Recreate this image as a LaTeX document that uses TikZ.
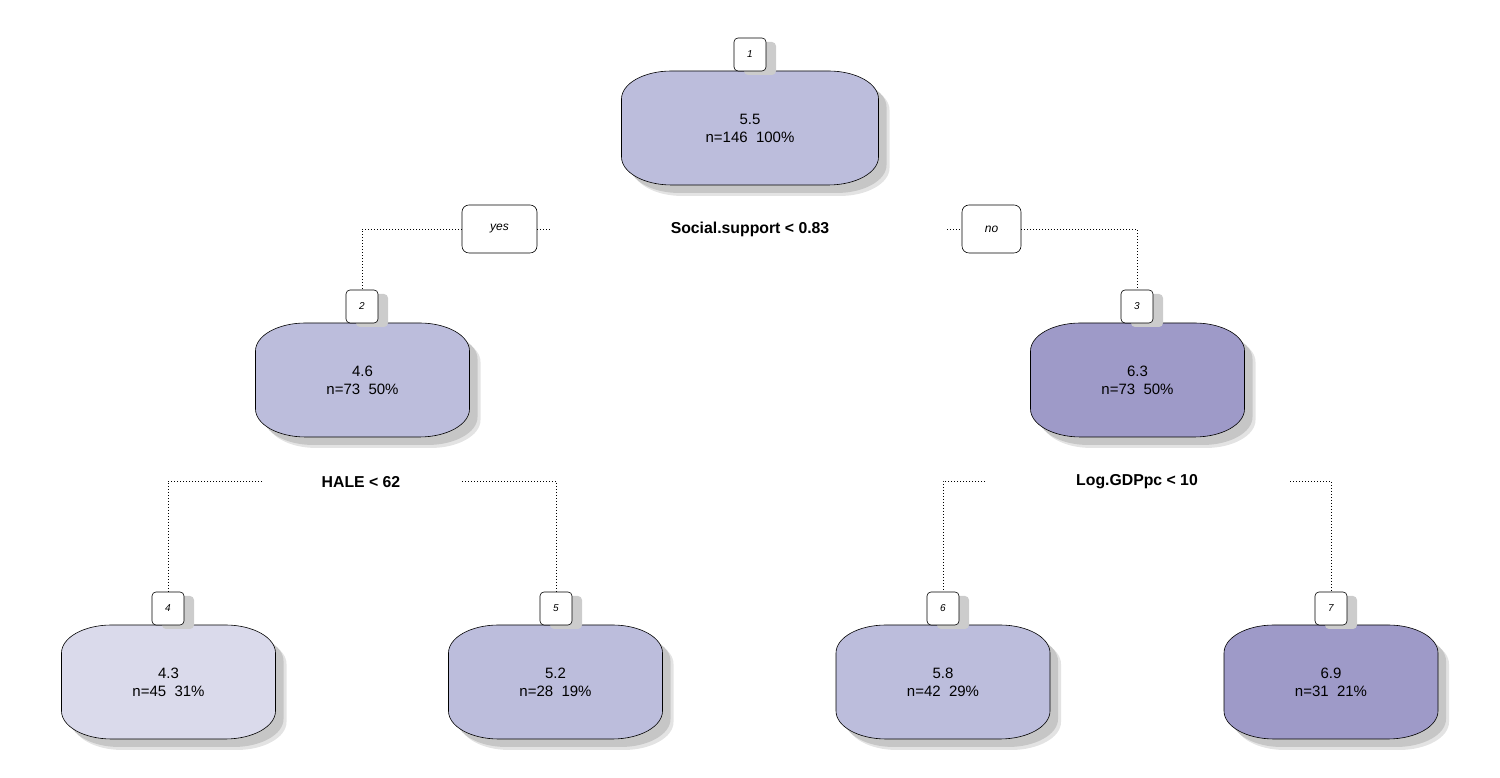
\documentclass[tikz,border=0pt]{standalone}
\usepackage{fontspec}
\setmainfont{Liberation Sans}
\usetikzlibrary{shadows}

\definecolor{purpA}{HTML}{DADAEB}
\definecolor{purpB}{HTML}{BCBDDC}
\definecolor{purpC}{HTML}{9E9AC8}

% outline of a tree node: centre x, centre y, half width
\newcommand{\rpshape}[3]{(#1-#3, #2-29) -- ++(0, 58)
	arc[start angle=180, end angle=90, x radius=50, y radius=28] -- ++(2*#3-100, 0)
	arc[start angle=90, end angle=0, x radius=50, y radius=28] -- ++(0, -58)
	arc[start angle=0, end angle=-90, x radius=50, y radius=28] -- ++(100-2*#3, 0)
	arc[start angle=-90, end angle=-180, x radius=50, y radius=28] -- cycle}

\newcommand{\rpnode}[4]{%
	\fill[gray!22] \rpshape{#1+11}{#2-11}{#3};
	\fill[gray!45] \rpshape{#1+8}{#2-8}{#3};
	\filldraw[fill=#4, draw=black, line width=.6pt] \rpshape{#1}{#2}{#3};}

\begin{document}
\begin{tikzpicture}[x=1pt, y=1pt,
		leaf/.style={align=center, font=\fontsize{15}{18}\selectfont},
		idbox/.style={draw, fill=white, line width=.6pt, rounded corners=4pt,
			minimum width=32pt, minimum height=33pt, inner sep=0pt,
			font=\fontsize{10}{11}\selectfont\itshape,
			drop shadow={shadow xshift=10pt, shadow yshift=-4pt, fill=gray!40, opacity=1}},
		answer/.style={draw, fill=white, line width=.6pt, rounded corners=7pt,
			minimum height=48pt, inner sep=0pt, font=\fontsize{12}{13}\selectfont\itshape},
		split/.style={font=\fontsize{15.8}{17}\selectfont\bfseries},
		dotline/.style={line width=.7pt, dash pattern=on .8pt off 2.2pt}]

		\useasboundingbox (0, 0) rectangle (1500, 778);

		% nodes
		\rpnode{750}{650}{128.5}{purpB}
		\node[leaf] (n1) at (750, 650) {5.5\\n=146\ \ 100\%};
		\rpnode{362.5}{398}{107}{purpB}
		\node[leaf] (n2) at (362.5, 398) {4.6\\n=73\ \ 50\%};
		\rpnode{1137.5}{398}{107}{purpC}
		\node[leaf] (n3) at (1137.5, 398) {6.3\\n=73\ \ 50\%};
		\rpnode{168.5}{96}{107}{purpA}
		\node[leaf] (n4) at (168.5, 96) {4.3\\n=45\ \ 31\%};
		\rpnode{555.5}{96}{107}{purpB}
		\node[leaf] (n5) at (555.5, 96) {5.2\\n=28\ \ 19\%};
		\rpnode{943}{96}{107}{purpB}
		\node[leaf] (n6) at (943, 96) {5.8\\n=42\ \ 29\%};
		\rpnode{1331}{96}{107}{purpC}
		\node[leaf] (n7) at (1331, 96) {6.9\\n=31\ \ 21\%};

		% node numbers
		\node[idbox] (b1) at (750, 723.5) {1};
		\node[idbox] (b2) at (362, 471.5) {2};
		\node[idbox] (b3) at (1137, 471.5) {3};
		\node[idbox] (b4) at (168, 169.5) {4};
		\node[idbox] (b5) at (556, 169.5) {5};
		\node[idbox] (b6) at (943, 169.5) {6};
		\node[idbox] (b7) at (1331, 169.5) {7};

		% splits
		\node[split] (s1) at (750, 548.5) {Social.support < 0.83};
		\node[split] (s2) at (361, 296) {HALE < 62};
		\node[split] (s3) at (1137, 296) {Log.GDPpc < 10};

		\node[answer, minimum width=75pt] (yes) at (499.5, 549) {yes};
		\node[answer, minimum width=59pt] (no) at (991.5, 549) {no};

		\coordinate (s1w) at (550, 549);
		\coordinate (s1e) at (947, 549);
		\coordinate (s2w) at (262, 297);
		\coordinate (s2e) at (462, 297);
		\coordinate (s3w) at (985, 297);
		\coordinate (s3e) at (1290, 297);

		\draw[dotline] (yes.west) -| (b2.north);
		\draw[dotline] (yes.east) -- (s1w);
		\draw[dotline] (s1e) -- (no.west);
		\draw[dotline] (no.east) -| (b3.north);
		\draw[dotline] (s2w) -| (b4.north);
		\draw[dotline] (s2e) -| (b5.north);
		\draw[dotline] (s3w) -| (b6.north);
		\draw[dotline] (s3e) -| (b7.north);
	\end{tikzpicture}
\end{document}
